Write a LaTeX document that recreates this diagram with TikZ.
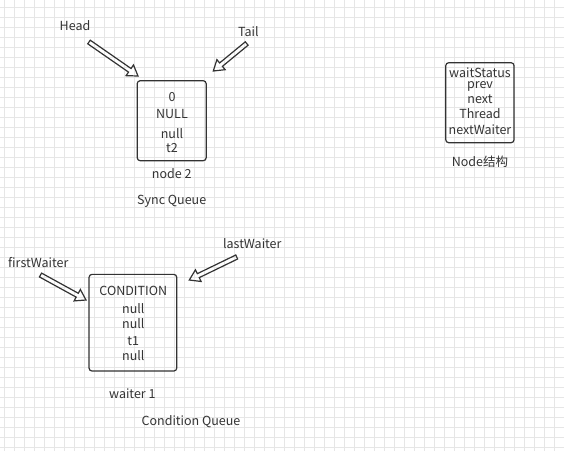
\documentclass[tikz,border=0pt]{standalone}
\usepackage{fontspec}
\setmainfont{Noto Sans CJK SC}
\usetikzlibrary{calc}
\definecolor{ink}{HTML}{333333}
\definecolor{gridc}{HTML}{E6E6E6}
\tikzset{
  txt/.style={text=ink, inner sep=0pt, font=\fontsize{12.5}{14}\selectfont},
  boxnode/.style={draw=ink, line width=1.2pt, rounded corners=3pt, inner sep=0pt},
  harrow/.style={draw=ink, line width=1.2pt, line join=miter},
}
\newcommand\hollowarrow[2]{%
  \coordinate (#2-back) at ($(#2)!10pt!(#1)$);
  \draw[harrow] ($(#1)!2.2pt!90:(#2)$) -- ($(#2-back)!2.2pt!90:(#2)$)
    -- ($(#2-back)!6.5pt!90:(#2)$) -- (#2)
    -- ($(#2-back)!6.5pt!-90:(#2)$) -- ($(#2-back)!2.2pt!-90:(#2)$)
    -- ($(#1)!2.2pt!-90:(#2)$) -- cycle;}
\begin{document}
\begin{tikzpicture}[x=1pt,y=-1pt]
\useasboundingbox (0,0) rectangle (564,451);
\fill[white] (0,0) rectangle (564,451);
\foreach \gx in {4,14,...,564} \draw[gridc, line width=0.8pt] (\gx,0) -- (\gx,451);
\foreach \gy in {7,17,...,447} \draw[gridc, line width=0.8pt] (0,\gy) -- (564,\gy);

% Sync queue node
\node[boxnode, minimum width=69pt, minimum height=80pt] (n2) at (171.7,120.7) {};
\node[txt] (n2a) at (172,96.7) {0};
\node[txt] (n2b) at (172,114) {NULL};
\node[txt] (n2c) at (172,134) {null};
\node[txt] (n2d) at (172,148) {t2};
\node[txt] (n2lbl) at (171.7,173.3) {node\ 2};
\node[txt] (syncq) at (171.7,201.7) {Sync Queue};
\node[txt] (head) at (75,25.7) {Head};
\node[txt] (tail) at (248.3,31.7) {Tail};
\coordinate (headS) at (89,42);
\coordinate (headT) at (138,76);
\coordinate (tailS) at (246.7,43.5);
\coordinate (tailT) at (213.3,71);
\hollowarrow{headS}{headT}
\hollowarrow{tailS}{tailT}

% Node structure
\node[boxnode, minimum width=68.3pt, minimum height=80pt] (ns) at (479.9,102.7) {};
\node[txt] (ns1) at (480,72.3) {waitStatus};
\node[txt] (ns2) at (480,86.3) {prev};
\node[txt] (ns3) at (480,98.8) {next};
\node[txt] (ns4) at (480,113.3) {Thread};
\node[txt] (ns5) at (480,130) {nextWaiter};
\node[txt] (nslbl) at (480,161.7) {Node结构};

% Condition queue
\node[boxnode, minimum width=87.7pt, minimum height=96.7pt] (w1) at (132.9,322.7) {};
\node[txt] (w1a) at (133.3,290.7) {CONDITION};
\node[txt] (w1b) at (133.3,309) {null};
\node[txt] (w1c) at (133.3,323.3) {null};
\node[txt] (w1d) at (133.3,341) {t1};
\node[txt] (w1e) at (133.3,355.7) {null};
\node[txt] (w1lbl) at (132.3,393.3) {waiter\ 1};
\node[txt] (condq) at (191,421.7) {Condition Queue};
\node[txt] (fw) at (38.3,262.3) {firstWaiter};
\node[txt] (lw) at (252.3,244) {lastWaiter};
\coordinate (fwS) at (40.5,275);
\coordinate (fwT) at (86,300);
\coordinate (lwS) at (236.7,257);
\coordinate (lwT) at (189.3,280);
\hollowarrow{fwS}{fwT}
\hollowarrow{lwS}{lwT}
\end{tikzpicture}
\end{document}
